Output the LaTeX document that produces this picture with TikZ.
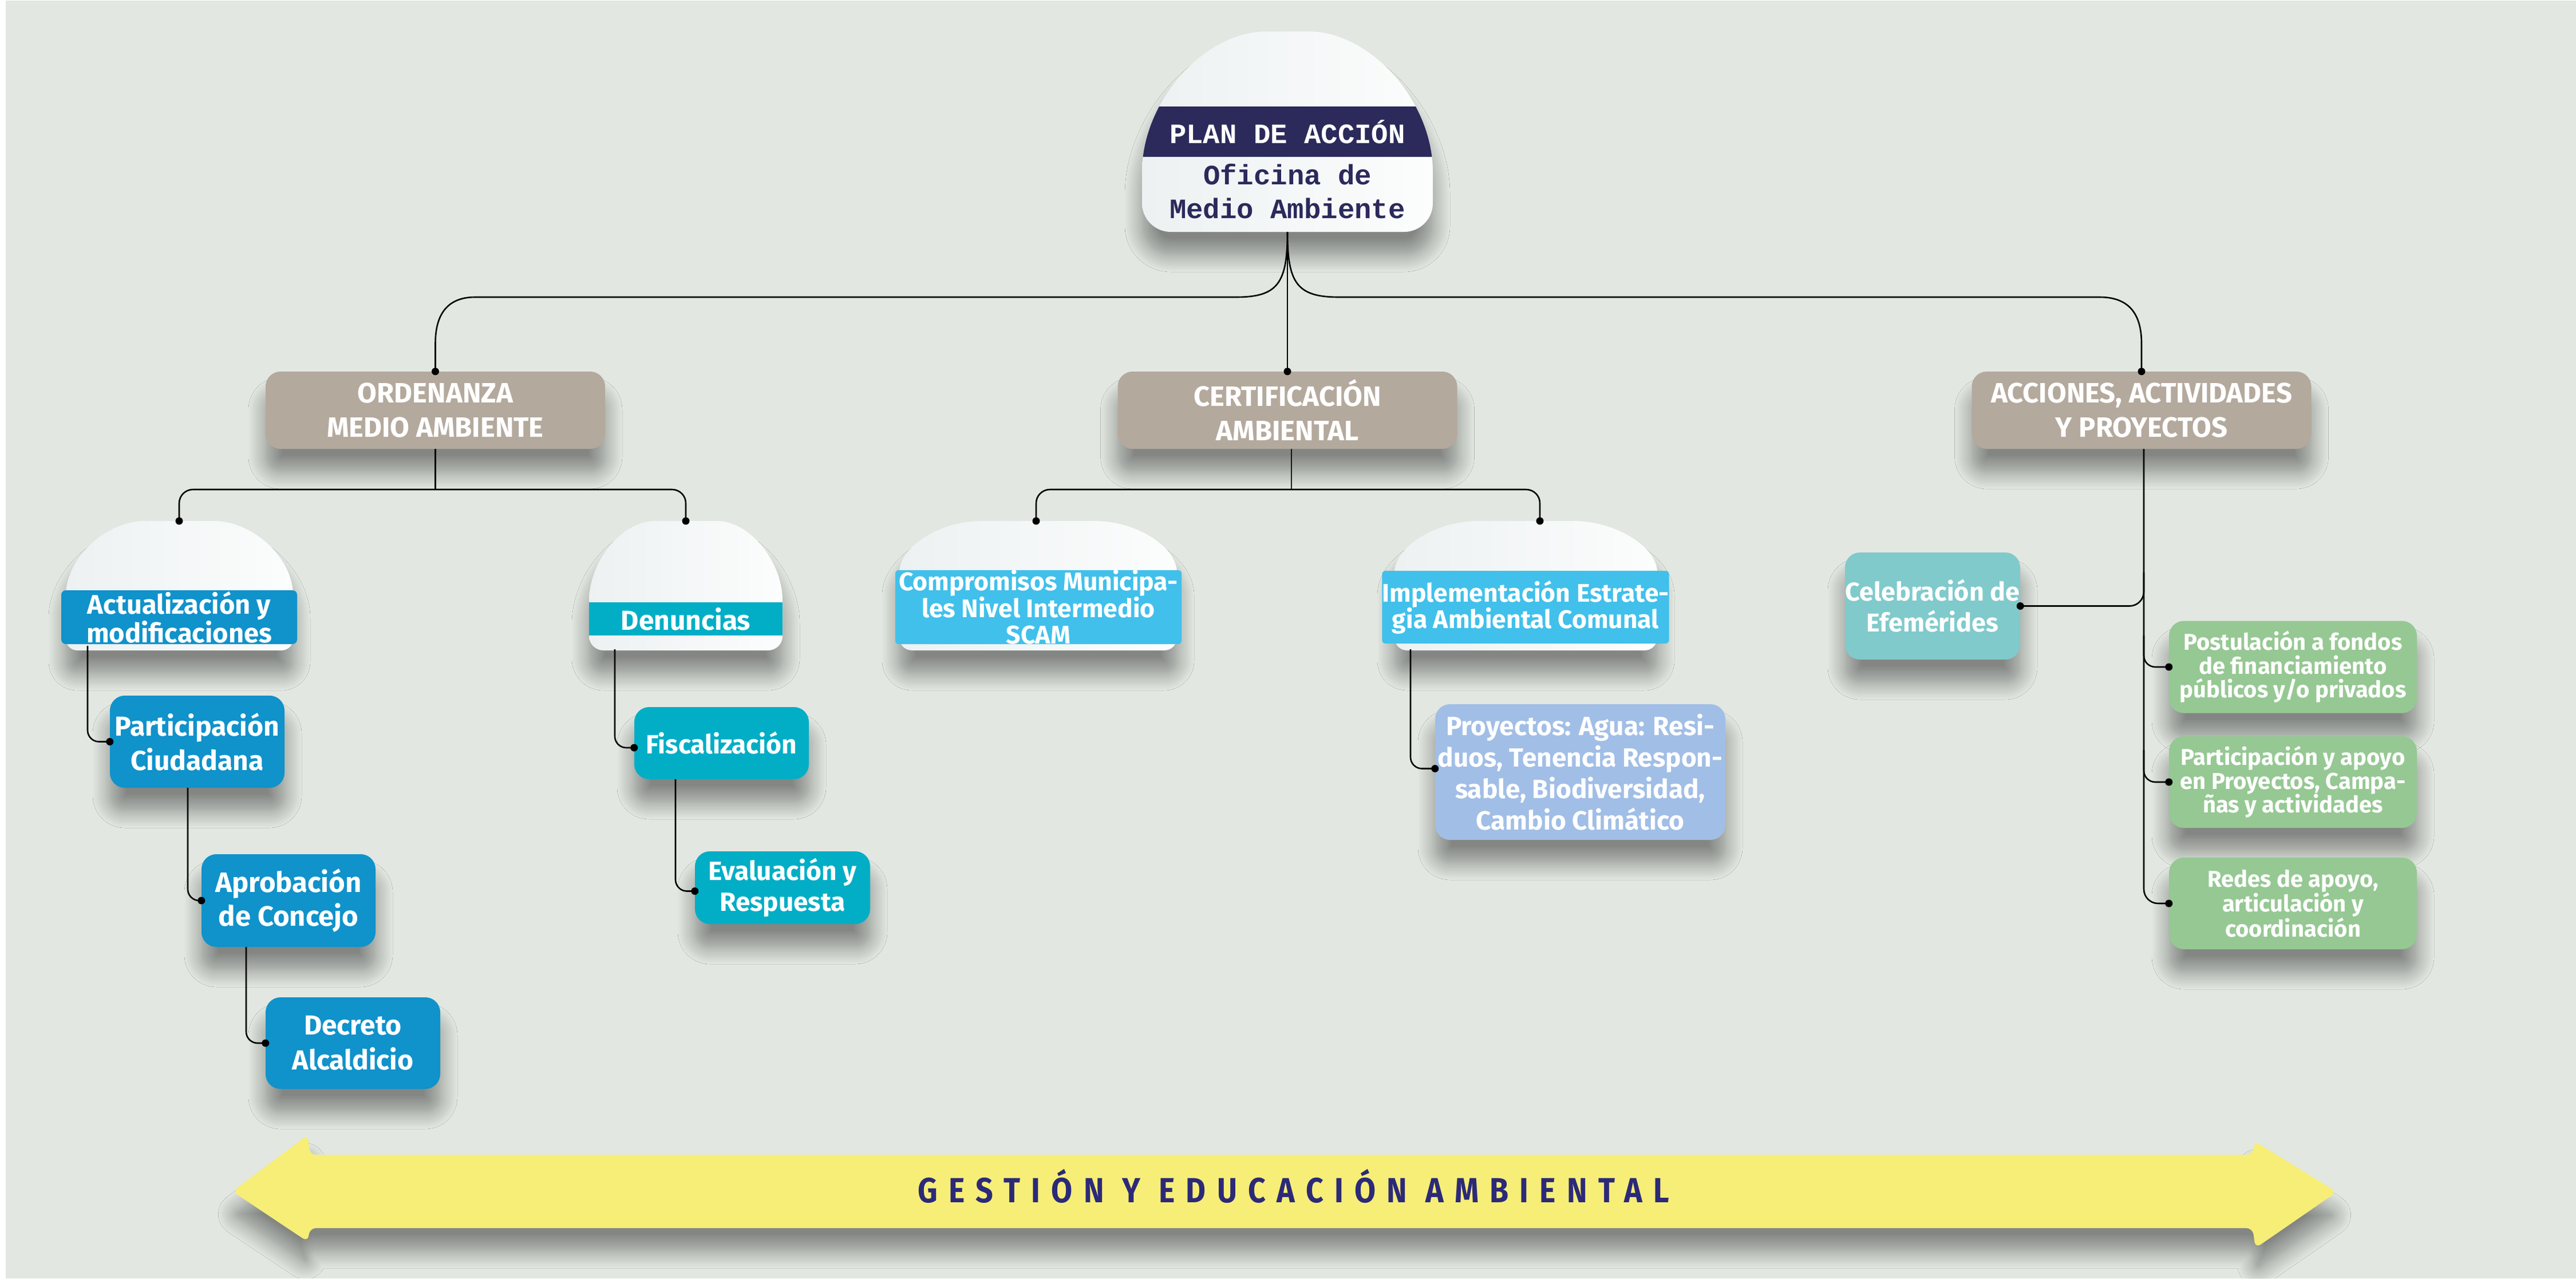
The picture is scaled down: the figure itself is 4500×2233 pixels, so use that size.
\documentclass[tikz,border=0pt]{standalone}
\usepackage{fontspec}
\setmainfont{Fira Sans}
\newfontfamily\monof{Liberation Mono}
\newfontfamily\arrowf{Fira Sans}[FakeStretch=0.88,LetterSpace=31.6]
\usetikzlibrary{shadows.blur,calc}
\definecolor{bgc}{HTML}{E2E7E1}
\definecolor{taupe}{HTML}{B4A99D}
\definecolor{navy}{HTML}{2B2A5B}
\definecolor{navyb}{HTML}{2C2A78}
\definecolor{blueA}{HTML}{1092CB}
\definecolor{tealA}{HTML}{02AEC6}
\definecolor{skyA}{HTML}{41C0EB}
\definecolor{periA}{HTML}{A1BEE6}
\definecolor{celebA}{HTML}{80CACC}
\definecolor{greenA}{HTML}{96C893}
\definecolor{yellowA}{HTML}{F6EE77}
\definecolor{domeL}{HTML}{EDF1F2}
\definecolor{domeR}{HTML}{FCFDFD}
\tikzset{
  conn/.style={draw=black, line width=2.6pt},
  softshadow/.style={blur shadow={shadow xshift=0pt, shadow yshift=-40pt, shadow blur radius=30pt, shadow opacity=42, shadow blur steps=12}},
  cbox/.style={softshadow, rounded corners=26pt, text=white, align=center, inner sep=0pt, font=\bfseries\fontsize{46}{59}\selectfont},
  lvlone/.style={cbox, fill=taupe, minimum width=593pt, minimum height=135pt, font=\bfseries\fontsize{49}{60}\selectfont},
  bandtxt/.style={text=white, align=center, inner sep=0pt, font=\bfseries\fontsize{47}{45}\selectfont},
  domefill/.style={softshadow, left color=domeL, right color=domeR},
  gbox/.style={cbox, fill=greenA, minimum width=433pt, minimum height=161pt, font=\bfseries\fontsize{40}{41.5}\selectfont},
}
% #1 command, #2 x0, #3 x1, #4 ytop, #5 ybot, #6 flat inset, #7 y side start, #8 bottom radius
\newcommand\dome[8]{#1 (#2,{#5-#8}) -- (#2,#7) .. controls (#2,{(#7+#4)/2}) and ({#2+#6/2},#4) .. ({#2+#6},#4) -- ({#3-#6},#4) .. controls ({#3-#6/2},#4) and (#3,{(#7+#4)/2}) .. (#3,#7) -- (#3,{#5-#8}) .. controls (#3,{#5-#8*0.45}) and ({#3-#8*0.45},#5) .. ({#3-#8},#5) -- ({#2+#8},#5) .. controls ({#2+#8*0.45},#5) and (#2,{#5-#8*0.45}) .. (#2,{#5-#8}) -- cycle;}
\begin{document}
\begin{tikzpicture}[x=1pt,y=-1pt]
\useasboundingbox (0,0) rectangle (4500,2233);
\fill[white] (0,0) rectangle (4500,2233);
\fill[bgc] (10,1) rectangle (4500,2233);

% ---------- root dome ----------
\dome{\shade[domefill]}{1995}{2503}{55}{405}{217}{300}{50}
\begin{scope}
\dome{\clip}{1995}{2503}{55}{405}{217}{300}{50}
\fill[navy] (1985,186) rectangle (2515,274);
\end{scope}
\node[anchor=base, text=white, inner sep=0pt, font=\monof\bfseries\fontsize{49}{59}\selectfont] (plan) at (2249,250) {PLAN DE ACCIÓN};
\node[text=navy, align=center, inner sep=0pt, font=\monof\bfseries\fontsize{49}{59}\selectfont] (root) at (2249,334) {Oficina de\\Medio Ambiente};
\coordinate (rootbot) at (2249,405);

% ---------- level 1 ----------
\node[lvlone] (ord) at (760.5,716.5) {ORDENANZA\\MEDIO AMBIENTE};
\node[lvlone] (cert) at (2249,716.5) {CERTIFICACIÓN\\AMBIENTAL};
\node[lvlone] (acc) at (3741,716.5) {ACCIONES, ACTIVIDADES\\Y PROYECTOS};

% ---------- level 2 domes ----------
\dome{\shade[domefill]}{115}{512}{910}{1136}{139}{1040}{20}
\node[bandtxt, fill=blueA, minimum width=412pt, minimum height=94pt, rounded corners=8pt, font=\bfseries\fontsize{47}{44}\selectfont] (act) at (313,1078) {Actualización y\\modificaciones};
\dome{\shade[domefill]}{1029}{1367}{910}{1136}{115}{1050}{25}
\node[bandtxt, fill=tealA, minimum width=338pt, minimum height=58pt, font=\bfseries\fontsize{48}{45}\selectfont] (den) at (1198,1081) {Denuncias};
\dome{\shade[domefill]}{1571}{2056}{910}{1136}{143}{1000}{22}
\node[bandtxt, fill=skyA, minimum width=500pt, minimum height=127pt, rounded corners=6pt, font=\bfseries\fontsize{44.5}{45.5}\selectfont] (comp) at (1814,1060.5) {Compromisos Municipa-\\les Nivel Intermedio\\SCAM};
\dome{\shade[domefill]}{2436}{2895}{910}{1136}{146}{1000}{22}
\node[bandtxt, fill=skyA, minimum width=500pt, minimum height=127pt, rounded corners=6pt, font=\bfseries\fontsize{44.5}{46}\selectfont] (impl) at (2665,1060.5) {Implementación Estrate-\\gia Ambiental Comunal};

% ---------- chains ----------
\node[cbox, fill=blueA, minimum width=305pt, minimum height=161pt, font=\bfseries\fontsize{48}{60}\selectfont] (part) at (344.5,1295.5) {Participación\\Ciudadana};
\node[cbox, fill=blueA, minimum width=304pt, minimum height=162pt, font=\bfseries\fontsize{49}{59}\selectfont] (apro) at (504,1573) {Aprobación\\de Concejo};
\node[cbox, fill=blueA, minimum width=305pt, minimum height=160pt, font=\bfseries\fontsize{48}{61}\selectfont] (decr) at (616.5,1822) {Decreto\\Alcaldicio};
\node[cbox, fill=tealA, minimum width=305pt, minimum height=126pt, font=\bfseries\fontsize{46}{59}\selectfont] (fisc) at (1260.5,1298) {Fiscalización};
\node[cbox, fill=tealA, minimum width=306pt, minimum height=127pt, font=\bfseries\fontsize{46}{54}\selectfont] (eval) at (1367,1550.5) {Evaluación y\\Respuesta};
\node[cbox, fill=periA, minimum width=507pt, minimum height=237pt, font=\bfseries\fontsize{46}{55}\selectfont] (proy) at (2760.5,1348.5) {Proyectos: Agua: Resi-\\duos, Tenencia Respon-\\sable, Biodiversidad,\\Cambio Climático};
\node[cbox, fill=celebA, minimum width=306pt, minimum height=187pt, font=\bfseries\fontsize{45}{54}\selectfont] (celeb) at (3376,1058.5) {Celebración de\\Efemérides};
\node[gbox] (gone) at (4005.5,1165) {Postulación a fondos\\de financiamiento\\públicos y/o privados};
\node[gbox, minimum height=160pt] (gtwo) at (4005.5,1366) {Participación y apoyo\\en Proyectos, Campa-\\ñas y actividades};
\node[gbox, minimum height=160pt] (gthree) at (4005.5,1578) {Redes de apoyo,\\articulación y\\coordinación};

% ---------- arrow ----------
\fill[yellowA, rounded corners=11pt, softshadow] (406,2081) -- (538,1982) -- (541,2017) -- (3935,2017) -- (3938,1993) -- (4082,2082) -- (3940,2180) -- (3935,2145) -- (541,2145) -- (538,2169) -- cycle;
\node[anchor=base, text=navyb, inner sep=0pt, font=\arrowf\bfseries\fontsize{61}{61}\selectfont] (gest) at (2260,2100) {GESTIÓN Y EDUCACIÓN AMBIENTAL};

% ---------- coordinates ----------
\coordinate (ordsplit) at (760.5,855);
\coordinate (acttop) at (313,910);
\coordinate (dentop) at (1198,910);
\coordinate (certbot) at (2256,784);
\coordinate (certsplit) at (2256,855);
\coordinate (comptop) at (1810,910);
\coordinate (impltop) at (2690,910);
\coordinate (actbot) at (153,1128);
\coordinate (partbot) at (328,1376);
\coordinate (aprobot) at (430,1654);
\coordinate (denbot) at (1074,1134);
\coordinate (fiscbot) at (1180,1361);
\coordinate (implbot) at (2464,1134);
\coordinate (accbot) at (3745,784);
\coordinate (celebj) at (3745,1000);
\coordinate (gonej) at (3745,1110);
\coordinate (gtwoj) at (3745,1310);

% ---------- connectors ----------
\draw[conn] (rootbot) -- (cert.north);
\draw[conn] (rootbot) .. controls (2249,495) and (2232,519) .. (2159,519) -- (830,519) .. controls (785,519) and (760.5,545) .. (760.5,600) -- (ord.north);
\draw[conn] (rootbot) .. controls (2249,495) and (2266,519) .. (2339,519) -- (3668,519) .. controls (3716,519) and (3741,545) .. (3741,600) -- (acc.north);
\draw[conn] (ord.south) -- (ordsplit);
\draw[conn, rounded corners=24pt] (acttop) |- (ordsplit) -| (dentop);
\draw[conn] (certbot) -- (certsplit);
\draw[conn, rounded corners=24pt] (comptop) |- (certsplit) -| (impltop);
\draw[conn, rounded corners=20pt] (actbot) |- (part.west);
\draw[conn, rounded corners=20pt] (partbot) |- (apro.west);
\draw[conn, rounded corners=20pt] (aprobot) |- (decr.west);
\draw[conn, rounded corners=20pt] (denbot) |- ($(fisc.west)+(0,8)$);
\draw[conn, rounded corners=20pt] (fiscbot) |- ($(eval.west)+(0,6)$);
\draw[conn, rounded corners=20pt] (implbot) |- ($(proy.west)+(0,-6)$);
\draw[conn, rounded corners=25pt] (accbot) |- (gthree.west);
\draw[conn, rounded corners=25pt] (celebj) |- (celeb.east);
\draw[conn, rounded corners=20pt] (gonej) |- (gone.west);
\draw[conn, rounded corners=20pt] (gtwoj) |- (gtwo.west);

% ---------- dots ----------
\foreach \p in {ord.north, cert.north, acc.north, acttop, dentop, comptop, impltop, part.west, apro.west, decr.west, celeb.east, gone.west, gtwo.west, gthree.west}
  \fill (\p) circle[radius=6.5pt];
\fill ($(fisc.west)+(0,8)$) circle[radius=6.5pt];
\fill ($(eval.west)+(0,6)$) circle[radius=6.5pt];
\fill ($(proy.west)+(0,-6)$) circle[radius=6.5pt];
\end{tikzpicture}
\end{document}
